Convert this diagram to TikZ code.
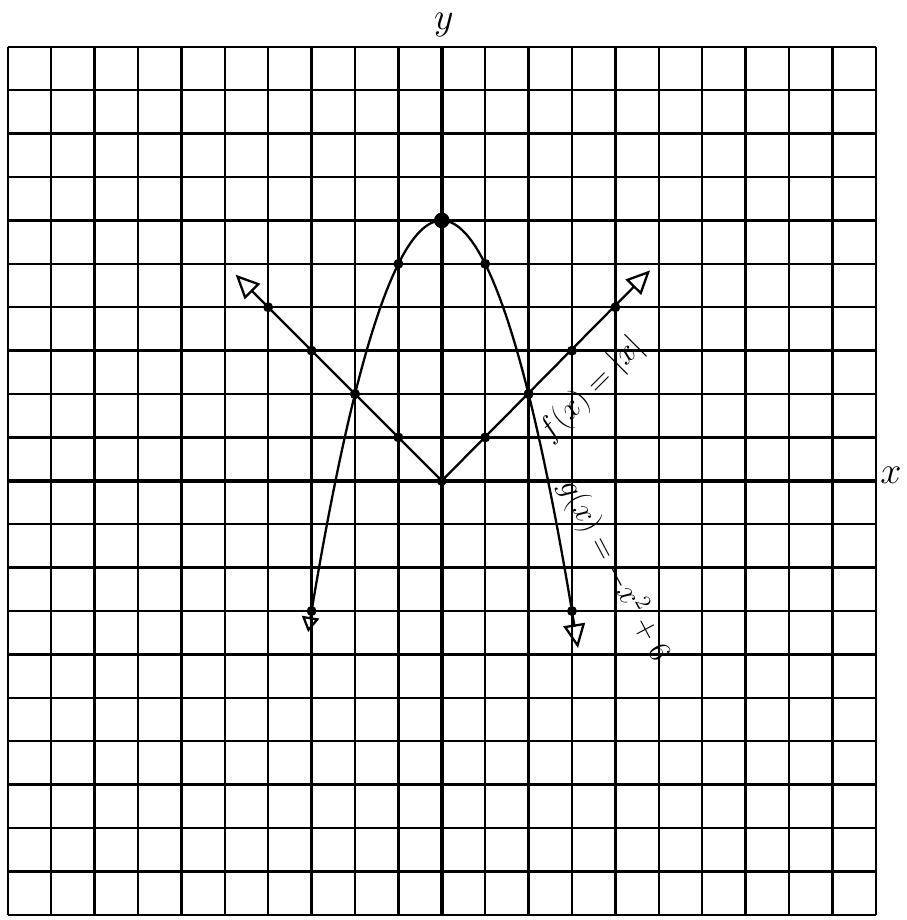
\documentclass[tikz,border=0pt]{standalone}
\usetikzlibrary{arrows.meta}

\begin{document}
\begin{tikzpicture}[
 gridline/.style={line width=1.6pt},
 axis/.style={line width=2.8pt},
 curve/.style={line width=1.5pt},
 opentip/.style={-{Triangle[open,length=5.5mm,width=5mm]}},
 dot/.style={circle,fill,inner sep=0pt,minimum size=2.3mm},
 big/.style={font=\fontsize{34}{38}\selectfont,inner sep=0pt},
 lbl/.style={font=\huge}]
\useasboundingbox (-10.18,-10.12) rectangle (10.71,11.08);
\draw[gridline] (-10,-10) grid (10,10);
% axes
\coordinate (xa) at (-10,0);
\coordinate (xb) at (10,0);
\coordinate (ya) at (0,-10);
\coordinate (yb) at (0,10);
\draw[axis] (xa) -- (xb);
\draw[axis] (ya) -- (yb);
\node[big,anchor=west] (xlab) at (10.1,0.12) {$x$};
\node[big] (ylab) at (0.05,10.5) {$y$};
% f(x)=|x|
\node[dot] (o) at (0,0) {};
\foreach \k in {1,...,4} {
 \node[dot] (fr\k) at (\k,\k) {};
 \node[dot] (fl\k) at (-\k,\k) {};
}
\coordinate (ftipl) at (-4.75,4.75);
\coordinate (ftipr) at (4.8,4.85);
\draw[curve,opentip] (o.center) -- (ftipl);
\draw[curve,opentip] (o.center) -- (ftipr);
\node[lbl,rotate=45] (flab) at (3.45,2.1) {$f(x)=|x|$};
% g(x)=-x^2+6
\node[dot,minimum size=3.6mm] (g0) at (0,6) {};
\node[dot] (gr1) at (1,5) {};
\node[dot] (gl1) at (-1,5) {};
\node[dot] (gr2) at (2,2) {};
\node[dot] (gl2) at (-2,2) {};
\node[dot] (gr3) at (3,-3) {};
\node[dot] (gl3) at (-3,-3) {};
\draw[curve,{Triangle[open,length=3.5mm,width=4mm]}-{Triangle[open,length=5.5mm,width=5mm]}]
 plot[domain=-3.08:3.14,samples=80] (\x,{6-\x*\x});
\node[lbl,rotate=-62] (glab) at (3.98,-2.05) {$g(x)=-x^2+6$};
\end{tikzpicture}
\end{document}
